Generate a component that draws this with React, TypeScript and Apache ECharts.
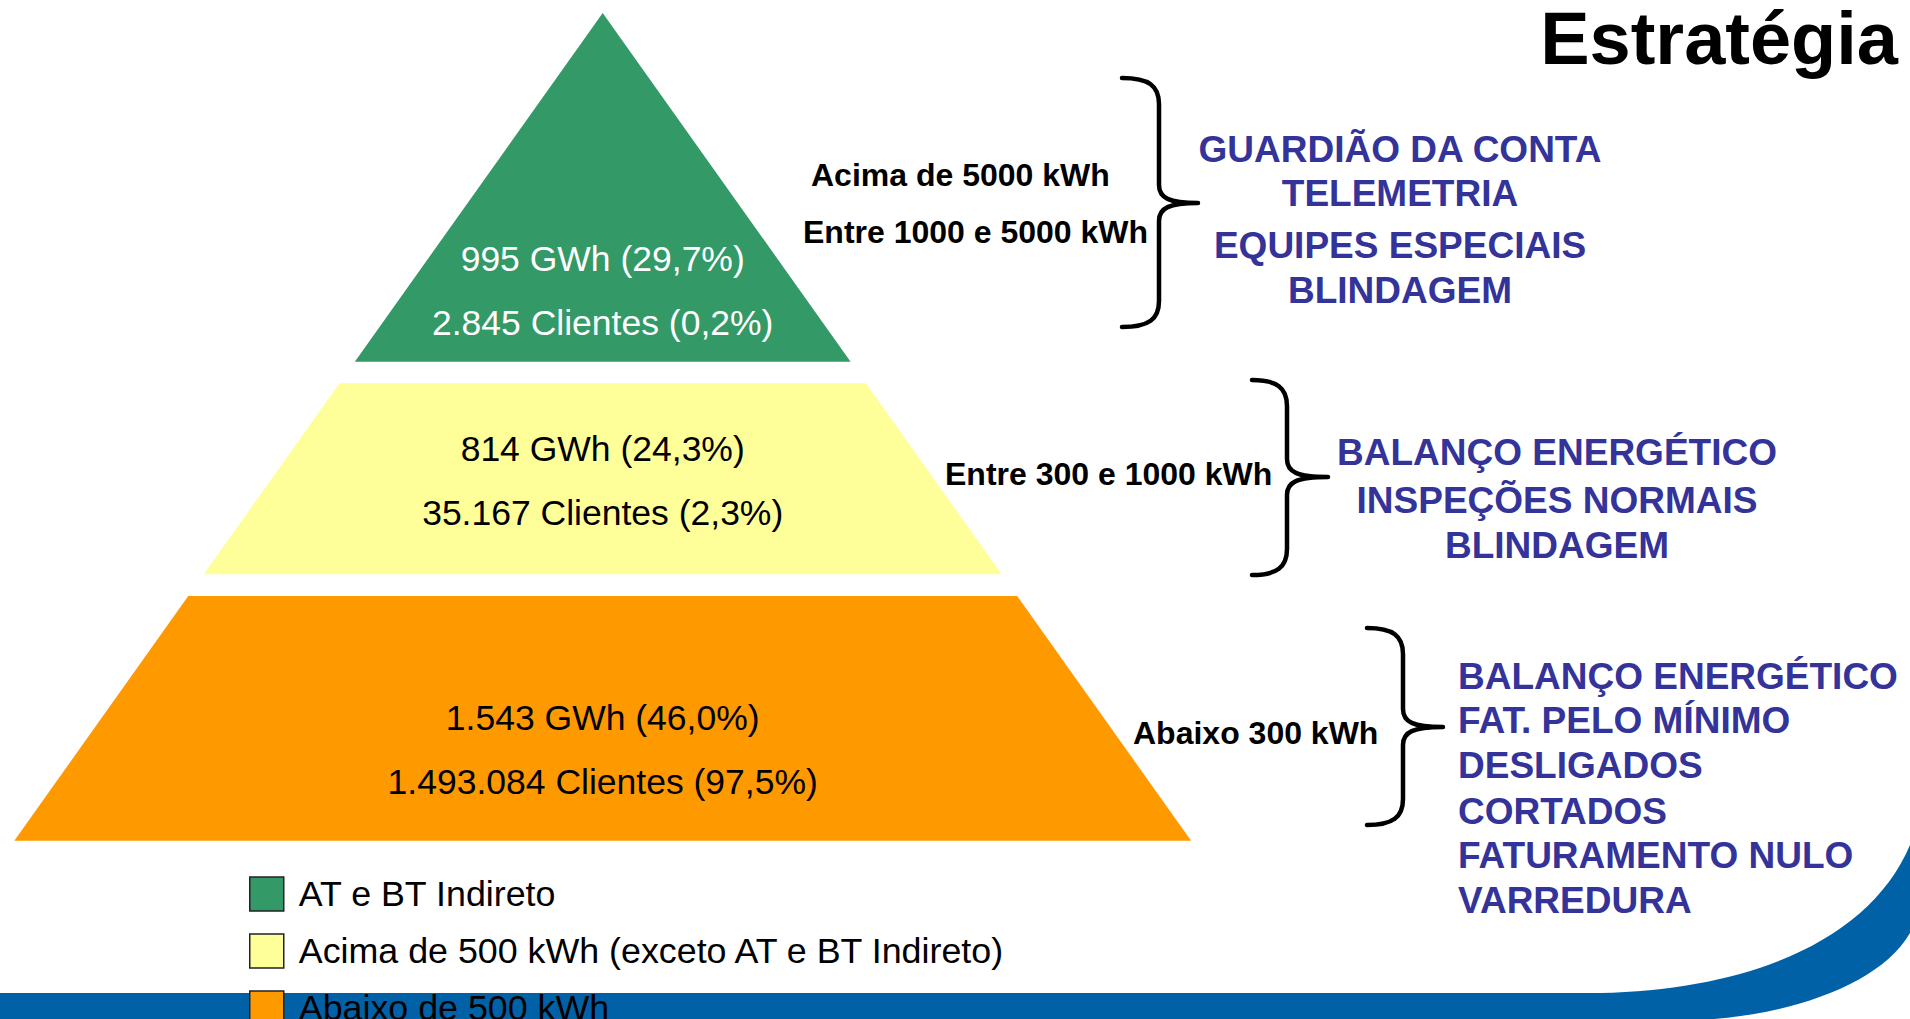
import React, { useEffect, useRef } from "react";
import * as echarts from "echarts";

// ---------- data ----------
const title = "Estratégia";
const layerNames = [
  "AT e BT Indireto",
  "Acima de 500 kWh (exceto AT e BT Indireto)",
  "Abaixo de 500 kWh",
];
const energyGWh = [995, 814, 1543];
const energyShare = [29.7, 24.3, 46.0];
const clientCount = [2845, 35167, 1493084];
const clientShare = [0.2, 2.3, 97.5];
// pyramid levels (0 = apex, 1 = base) covered by each layer
const layerFrom = [0, 0.4474, 0.7044];
const layerTo = [0.4213, 0.6782, 1];
const rangeLabels = [
  ["Acima de 5000 kWh", "Entre 1000 e 5000 kWh"],
  ["Entre 300 e 1000 kWh"],
  ["Abaixo 300 kWh"],
];
const strategies = [
  ["GUARDIÃO DA CONTA", "TELEMETRIA", "EQUIPES ESPECIAIS", "BLINDAGEM"],
  ["BALANÇO ENERGÉTICO", "INSPEÇÕES NORMAIS", "BLINDAGEM"],
  ["BALANÇO ENERGÉTICO", "FAT. PELO MÍNIMO", "DESLIGADOS", "CORTADOS", "FATURAMENTO NULO", "VARREDURA"],
];

// ---------- styles / layout ----------
const FONT = '"Liberation Sans", Arial, Helvetica, sans-serif';
const layerColors = ["#339966", "#FFFF99", "#FF9900"];
const labelColors = ["#ffffff", "#000000", "#000000"];
const labelCenterLevel = [0.3353, 0.5657, 0.8908];
const BLUE_TEXT = "#333399";
const BAND_BLUE = "#0061a6";

const rangePos = [
  [[811, 175], [803, 232]],
  [[945, 474]],
  [[1133, 733]],
];
const stratLayout = [
  { x: 1400, align: "center", ys: [149, 193, 245, 290] },
  { x: 1557, align: "center", ys: [452, 500, 545] },
  { x: 1458, align: "left", ys: [676, 720, 765, 811, 855, 900] },
];
const braceDefs = [
  [1122, 1159, 1198, 78, 203, 327],
  [1252, 1287, 1328, 380, 477, 575],
  [1367, 1403, 1443, 628, 727, 825],
];

function fmtThousands(n: number) {
  return String(n).replace(/\B(?=(\d{3})+(?!\d))/g, ".");
}
function fmtPct(n: number) {
  return n.toFixed(1).replace(".", ",") + "%";
}

function bracePath(x0: number, xv: number, xt: number, yTop: number, yMid: number, yBot: number) {
  const r = 26;
  const m = 18;
  return (
    `M${x0} ${yTop} C${xv - 10} ${yTop} ${xv} ${yTop + 8} ${xv} ${yTop + r} ` +
    `L${xv} ${yMid - m} C${xv} ${yMid - 5} ${xv + 10} ${yMid} ${xt} ${yMid} ` +
    `C${xv + 10} ${yMid} ${xv} ${yMid + 5} ${xv} ${yMid + m} ` +
    `L${xv} ${yBot - r} C${xv} ${yBot - 8} ${xv - 10} ${yBot} ${x0} ${yBot}`
  );
}

const swooshPath =
  "M0 993 L1600 993 C1750 990 1870 940 1910 845 L1910 933 C1880 985 1790 1015 1700 1020 L0 1020 Z";

let registered = false;
function registerShapes() {
  if (registered) return;
  registered = true;
  braceDefs.forEach((b, i) => {
    echarts.graphic.registerShape(
      "brace" + i,
      echarts.graphic.extendPath(bracePath(b[0], b[1], b[2], b[3], b[4], b[5]), {}) as any
    );
  });
  echarts.graphic.registerShape("swoosh", echarts.graphic.extendPath(swooshPath, {}) as any);
}

function makeRenderItem(i: number) {
  return (params: any, api: any) => {
    const s = api.value(0);
    const e = api.value(1);
    const p1 = api.coord([-s, s]);
    const p2 = api.coord([s, s]);
    const p3 = api.coord([e, e]);
    const p4 = api.coord([-e, e]);
    const c = api.coord([0, labelCenterLevel[i]]);
    const textStyle = {
      fill: labelColors[i],
      fontSize: 35.5,
      fontFamily: FONT,
      align: "center",
      verticalAlign: "middle",
    };
    return {
      type: "group",
      children: [
        {
          type: "polygon",
          shape: { points: [p1, p2, p3, p4] },
          style: { fill: api.visual("color") },
        },
        {
          type: "text",
          x: c[0],
          y: c[1] - 32,
          style: { ...textStyle, text: `${fmtThousands(energyGWh[i])} GWh (${fmtPct(energyShare[i])})` },
        },
        {
          type: "text",
          x: c[0],
          y: c[1] + 32,
          style: { ...textStyle, text: `${fmtThousands(clientCount[i])} Clientes (${fmtPct(clientShare[i])})` },
        },
      ],
    };
  };
}

function buildGraphics() {
  const els: any[] = [];
  els.push({ type: "swoosh", x: 0, y: 0, z: 0, style: { fill: BAND_BLUE, stroke: "none" } });
  els.push({
    type: "text",
    x: 1898,
    y: 38,
    style: { text: title, fill: "#000", fontSize: 74, fontWeight: "bold", fontFamily: FONT, align: "right", verticalAlign: "middle" },
  });
  rangeLabels.forEach((grp, gi) => {
    grp.forEach((t, li) => {
      const p = rangePos[gi][li];
      els.push({
        type: "text",
        x: p[0],
        y: p[1],
        style: { text: t, fill: "#000", fontSize: 32, fontWeight: "bold", fontFamily: FONT, align: "left", verticalAlign: "middle" },
      });
    });
  });
  strategies.forEach((grp, gi) => {
    const lay = stratLayout[gi];
    grp.forEach((t, li) => {
      els.push({
        type: "text",
        x: lay.x,
        y: lay.ys[li],
        style: { text: t, fill: BLUE_TEXT, fontSize: 37, fontWeight: "bold", fontFamily: FONT, align: lay.align, verticalAlign: "middle" },
      });
    });
  });
  braceDefs.forEach((_, i) => {
    els.push({
      type: "brace" + i,
      x: 0,
      y: 0,
      style: { stroke: "#000", lineWidth: 4.5, fill: "none", lineCap: "round", lineJoin: "round" },
    });
  });
  return els;
}

export default function App() {
  const ref = useRef<HTMLDivElement>(null);
  useEffect(() => {
    if (!ref.current) return;
    registerShapes();
    const chart = echarts.init(ref.current, undefined, { renderer: "svg" });
    chart.setOption({
      animation: false,
      backgroundColor: "#ffffff",
      grid: { left: 14.3, top: 13, width: 1176.8, height: 827.7, containLabel: false },
      xAxis: { type: "value", min: -1, max: 1, show: false },
      yAxis: { type: "value", min: 0, max: 1, inverse: true, show: false },
      legend: {
        orient: "vertical",
        left: 249,
        top: 876,
        height: 220,
        padding: 0,
        itemWidth: 34,
        itemHeight: 34,
        itemGap: 21,
        icon: "rect",
        selectedMode: false,
        itemStyle: { borderColor: "#222", borderWidth: 1.5 },
        textStyle: { fontSize: 35.8, color: "#000", fontFamily: FONT, lineHeight: 34, padding: [0, 0, 0, 10] },
        data: layerNames,
      },
      series: layerNames.map((name, i) => ({
        type: "custom",
        name,
        coordinateSystem: "cartesian2d",
        itemStyle: { color: layerColors[i] },
        data: [[layerFrom[i], layerTo[i]]],
        renderItem: makeRenderItem(i),
      })),
      graphic: buildGraphics(),
    });
    return () => chart.dispose();
  }, []);
  return (
    <div
      ref={ref}
      style={{ position: "fixed", left: 0, top: 0, width: 1910, height: 1019, background: "#fff" }}
    />
  );
}
